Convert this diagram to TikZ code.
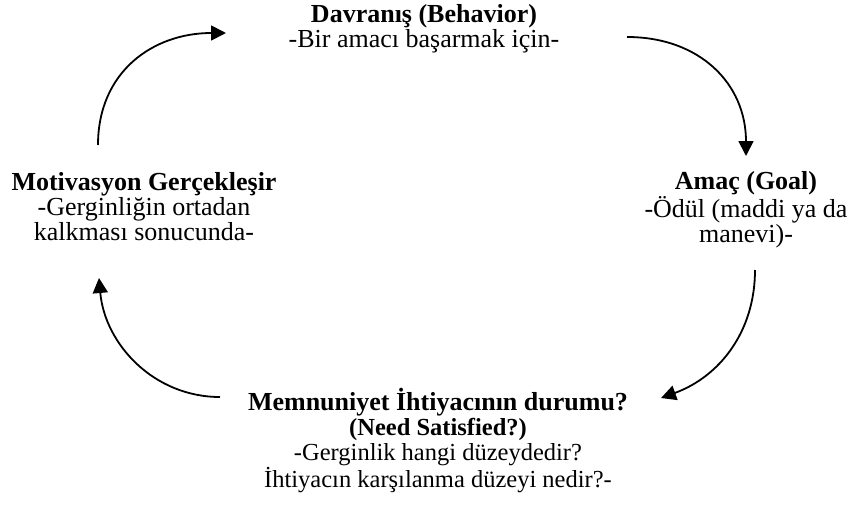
\documentclass[tikz,border=0pt]{standalone}
\usepackage{fontspec}
\setmainfont{Liberation Serif}
\usetikzlibrary{arrows.meta,positioning}

\begin{document}
\begin{tikzpicture}[
    x=1pt, y=-1pt,
    stage/.style={align=center, inner sep=0pt, anchor=base, font=\fontsize{26}{25}\selectfont},
    arrow/.style={-{Triangle[length=15pt, width=15pt]}, line width=1.8pt}
]
\useasboundingbox (0,0) rectangle (855,511);

% Stages of the cycle (anchored on the last line)
\node[stage] (behavior) at (424,48) {\textbf{Davranış (Behavior)}\\-Bir amacı başarmak için-};
\node[stage] (goal) at (746,242) {\textbf{Amaç (Goal)}\\-Ödül (maddi ya da\\manevi)-};
\node[stage, font=\fontsize{24.5}{25}\selectfont] (need) at (438,487) {{\fontsize{26}{25}\selectfont\textbf{Memnuniyet İhtiyacının durumu?}}\\\textbf{(Need Satisfied?)}\\-Gerginlik hangi düzeydedir?\\İhtiyacın karşılanma düzeyi nedir?-};
\node[stage] (motiv) at (144,240) {\textbf{Motivasyon Gerçekleşir}\\-Gerginliğin ortadan\\kalkması sonucunda-};

% Arrow ends
\coordinate (a1) at (98,145);
\coordinate (b1) at (226,33);
\coordinate (a2) at (627,37);
\coordinate (b2) at (746,156);
\coordinate (a3) at (755,270);
\coordinate (b3) at (661,398);
\coordinate (a4) at (220,397);
\coordinate (b4) at (99,278);

% Cycle arrows
\draw[arrow] (a1) to[out=90, in=180, looseness=1.1] (b1);
\draw[arrow] (a2) to[out=0, in=90, looseness=1.1] (b2);
\draw[arrow] (a3) to[out=-90, in=20] (b3);
\draw[arrow] (a4) to[out=180, in=-85] (b4);
\end{tikzpicture}
\end{document}
